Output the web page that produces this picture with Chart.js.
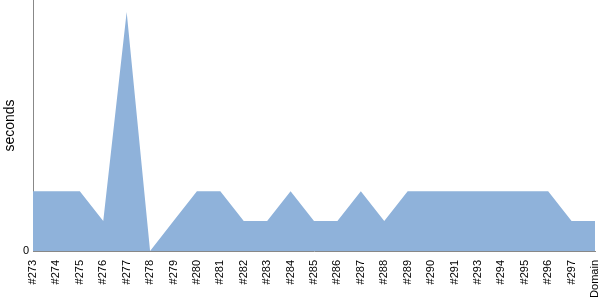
<!DOCTYPE html>
<html><head><meta charset="utf-8">
<script src="https://cdn.jsdelivr.net/npm/chart.js@4"></script>
<style>html,body{margin:0;padding:0;background:#fff}#wrap{width:600px;height:300px}</style>
</head><body><div id="wrap"><canvas id="c" width="600" height="300"></canvas></div>
<script>
const builds = ["#273","#274","#275","#276","#277","#278","#279","#280","#281","#282","#283","#284","#285","#286","#287","#288","#289","#290","#291","#293","#294","#295","#296","#297","Domain"];
const seconds = [2,2,2,1,8,0,1,2,2,1,1,2,1,1,2,1,2,2,2,2,2,2,2,1,1];
const yTicks = [0];
const yTitle = "seconds";

new Chart(document.getElementById('c'), {
  type: 'line',
  data: { labels: builds, datasets: [{ data: seconds, fill: 'origin', backgroundColor: 'rgb(143,178,218)', borderWidth: 0, pointRadius: 0, tension: 0 }] },
  options: {
    responsive: false, animation: false,
    layout: { padding: { top: -20, right: -20, left: 0, bottom: 0 } },
    plugins: { legend: { display: false }, tooltip: { enabled: false } },
    scales: {
      x: {
        offset: false,
        grid: { display: false, drawTicks: false },
        border: { display: true, color: '#888' },
        ticks: { autoSkip: false, maxRotation: 90, minRotation: 90, color: '#000', padding: 9, font: { family: 'Liberation Sans', size: 11 } },
        afterFit: s => { s.height = 49; s.paddingRight = 5; s.paddingLeft = 0; }
      },
      y: {
        min: 0, max: 8.4,
        grid: { display: false, drawTicks: false },
        border: { display: true, color: '#888' },
        afterBuildTicks: s => { s.ticks = yTicks.map(v => ({ value: v })); },
        ticks: { color: '#000', padding: 4, font: { family: 'Liberation Sans', size: 11 } },
        title: { display: true, text: yTitle, color: '#000', font: { family: 'Liberation Sans', size: 14 }, padding: { top: 2, bottom: 0 } },
        afterFit: s => { s.width = 33; s.paddingTop = 0; s.paddingBottom = 0; }
      }
    }
  }
});
</script></body></html>
